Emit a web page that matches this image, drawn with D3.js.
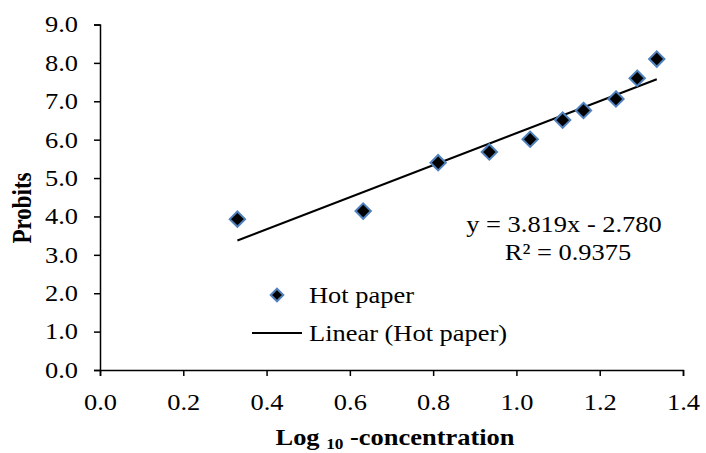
<!DOCTYPE html>
<html lang="en">
<head>
  <meta charset="UTF-8">
  <title>Probits vs Log10 concentration</title>
  <script src="https://d3js.org/d3.v7.min.js"></script>
  <style>
    body { margin: 0; background: #fff; }
    text { font-family: "Liberation Serif", "Times New Roman", serif; fill: #000; }
  </style>
</head>
<body>
<script>
  // data
  const logConc = [0.330, 0.632, 0.812, 0.935, 1.033, 1.111, 1.161, 1.239, 1.290, 1.337];
  const probits = [3.93, 4.14, 5.40, 5.68, 6.01, 6.51, 6.76, 7.06, 7.60, 8.10];
  const xTicks = [0, 0.2, 0.4, 0.6, 0.8, 1.0, 1.2, 1.4];
  const yTicks = [0, 1, 2, 3, 4, 5, 6, 7, 8, 9];
  const seriesName = 'Hot paper';
  const equationText = 'y = 3.819x - 2.780';
  const r2Text = 'R² = 0.9375';

  const width = 706, height = 453;
  const fs = 23;      // font size
  const sx = 1.15;    // the original picture is a bit stretched sideways

  const svg = d3.select('body').append('svg')
    .attr('width', width)
    .attr('height', height);

  const x = d3.scaleLinear().domain([0, 1.4]).range([100, 683]);
  const y = d3.scaleLinear().domain([0, 9]).range([370, 24.5]);

  // helper for stretched text
  function label(px, py, str, anchor) {
    return svg.append('text')
      .attr('transform', `translate(${px},${py}) scale(${sx},1)`)
      .attr('text-anchor', anchor || 'start')
      .style('font-size', fs + 'px')
      .text(str);
  }

  // axes
  const xAxis = svg.append('g')
    .attr('transform', `translate(0,${y(0)})`)
    .call(d3.axisBottom(x).tickValues(xTicks).tickFormat(d3.format('.1f')).tickSizeOuter(0).tickSize(6).tickPadding(18));
  const yAxis = svg.append('g')
    .attr('transform', `translate(${x(0)},0)`)
    .call(d3.axisLeft(y).tickValues(yTicks).tickFormat(d3.format('.1f')).tickSizeOuter(0).tickSize(6));

  [xAxis, yAxis].forEach(g => {
    g.select('.domain').attr('stroke', '#000').attr('stroke-width', 1.5);
    g.selectAll('.tick line').attr('stroke', '#000').attr('stroke-width', 1.5);
    g.selectAll('.tick text')
      .style('font-family', '"Liberation Serif", serif')
      .style('font-size', fs + 'px')
      .attr('fill', '#000');
  });
  xAxis.selectAll('.tick text').attr('transform', `scale(${sx},1)`);
  yAxis.selectAll('.tick text')
    .attr('x', 0)
    .attr('text-anchor', 'end')
    .attr('transform', `translate(-22,0) scale(${sx},1)`);

  // linear trend line from least squares
  const pts = logConc.map((v, i) => [v, probits[i]]);
  const mx = d3.mean(logConc), my = d3.mean(probits);
  const sxy = d3.sum(pts, p => (p[0] - mx) * (p[1] - my));
  const sxx = d3.sum(pts, p => (p[0] - mx) ** 2);
  const slope = sxy / sxx, intercept = my - slope * mx;
  const xExt = d3.extent(logConc);

  svg.append('line')
    .attr('x1', x(xExt[0])).attr('y1', y(slope * xExt[0] + intercept))
    .attr('x2', x(xExt[1])).attr('y2', y(slope * xExt[1] + intercept))
    .attr('stroke', '#000').attr('stroke-width', 2);

  // markers
  const diamond = d3.symbol().type(d3.symbolDiamond2).size(150);
  svg.selectAll('.pt')
    .data(pts)
    .enter().append('path')
    .attr('class', 'pt')
    .attr('transform', d => `translate(${x(d[0])},${y(d[1])})`)
    .attr('d', diamond)
    .attr('fill', '#000')
    .attr('stroke', '#4F81BD')
    .attr('stroke-width', 2);

  // equation label
  label(564, 232, equationText, 'middle');
  label(568, 260, r2Text, 'middle');

  // legend
  svg.append('path')
    .attr('transform', 'translate(277,295)')
    .attr('d', d3.symbol().type(d3.symbolDiamond2).size(100))
    .attr('fill', '#000').attr('stroke', '#4F81BD').attr('stroke-width', 2);
  label(309, 303, seriesName);
  svg.append('line').attr('x1', 252).attr('x2', 302).attr('y1', 333).attr('y2', 333)
    .attr('stroke', '#000').attr('stroke-width', 2);
  label(309, 341, `Linear (${seriesName})`);

  // axis titles
  const xTitle = svg.append('text')
    .attr('transform', `translate(395,445) scale(${sx},1)`)
    .attr('text-anchor', 'middle')
    .style('font-size', fs + 'px').style('font-weight', 'bold');
  xTitle.append('tspan').text('Log ');
  xTitle.append('tspan').attr('dy', 4).style('font-size', '15px').text('10');
  xTitle.append('tspan').attr('dy', -4).text(' -concentration');

  svg.append('text')
    .attr('transform', `translate(31,208) rotate(-90) scale(1,${sx})`)
    .attr('text-anchor', 'middle')
    .style('font-size', fs + 'px').style('font-weight', 'bold')
    .text('Probits');
</script>
</body>
</html>
